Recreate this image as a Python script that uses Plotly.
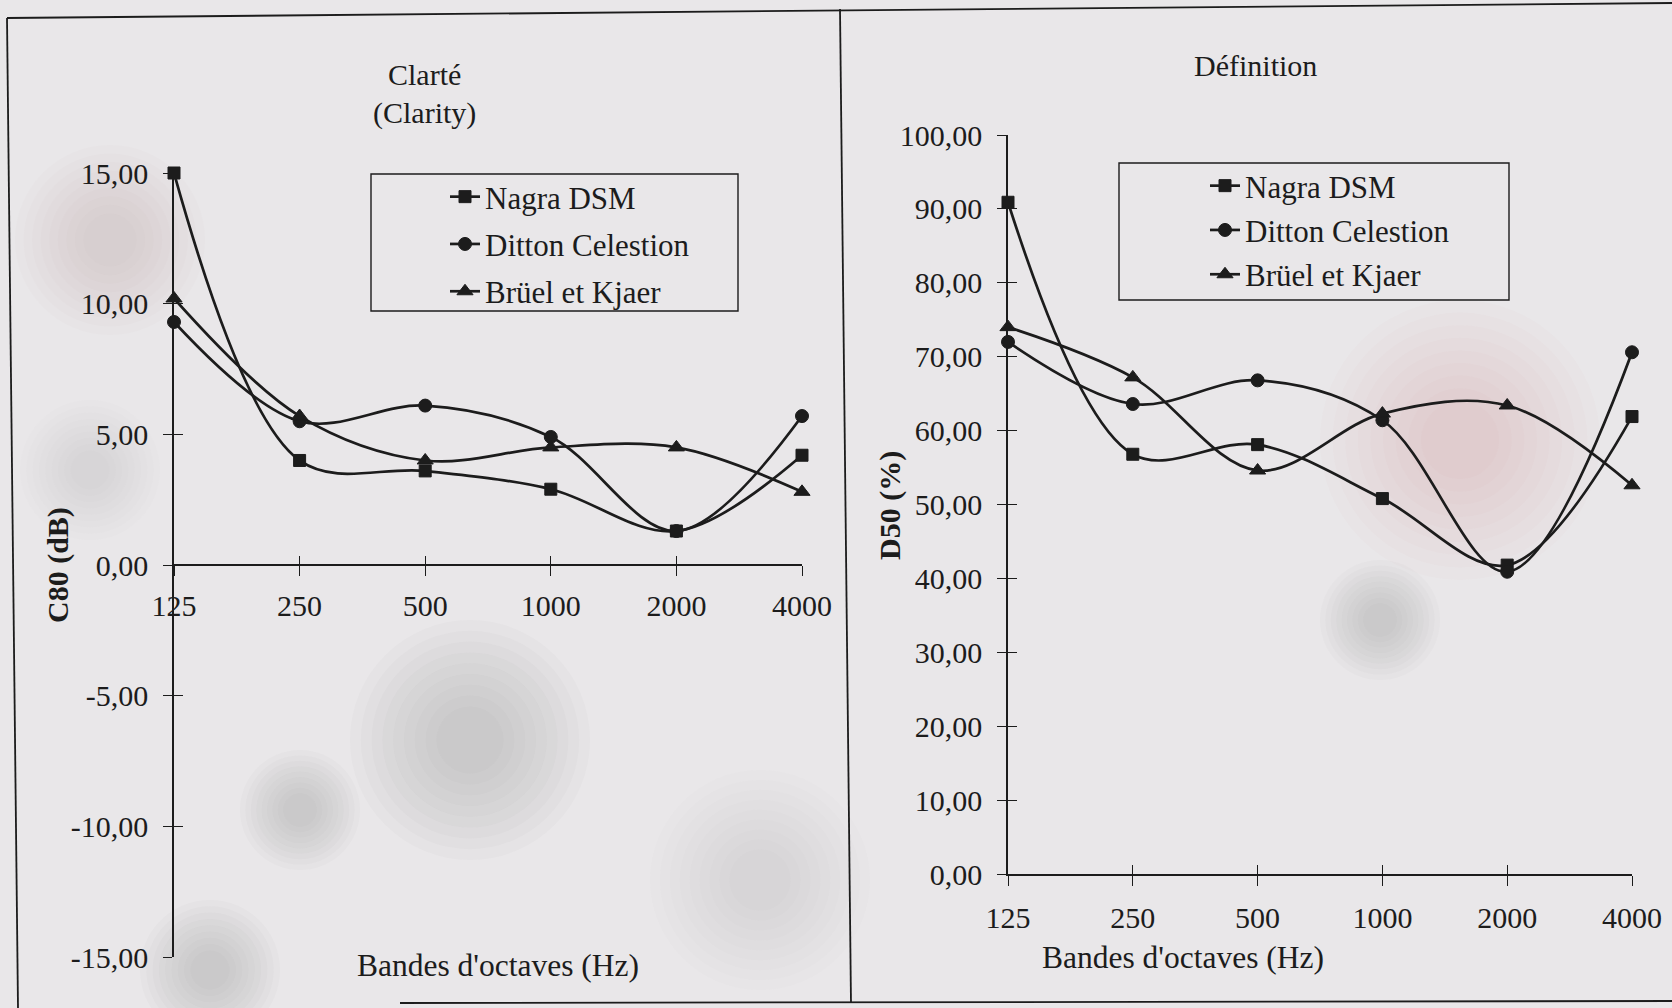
import plotly.graph_objects as go

# ---------------- data ----------------
bands = ["125", "250", "500", "1000", "2000", "4000"]

c80_nagra = [15.0, 4.0, 3.6, 2.9, 1.3, 4.2]
c80_ditton = [9.3, 5.5, 6.1, 4.9, 1.3, 5.7]
c80_bruel = [10.2, 5.7, 4.0, 4.5, 4.5, 2.8]

d50_nagra = [90.9, 56.8, 58.1, 50.8, 41.8, 61.9]
d50_ditton = [72.0, 63.6, 66.8, 61.4, 40.9, 70.6]
d50_bruel = [74.0, 67.2, 54.6, 62.3, 63.4, 52.6]

series_names = ["Nagra DSM", "Ditton Celestion", "Brüel et Kjaer"]

c80_ticks = [15, 10, 5, 0, -5, -10, -15]
c80_ticktext = ["15,00", "10,00", "5,00", "0,00", "-5,00", "-10,00", "-15,00"]
d50_ticks = [100, 90, 80, 70, 60, 50, 40, 30, 20, 10, 0]
d50_ticktext = ["100,00", "90,00", "80,00", "70,00", "60,00", "50,00",
                "40,00", "30,00", "20,00", "10,00", "0,00"]

# ---------------- style ----------------
W, H = 1672, 1008
FONT = "Liberation Serif, Times New Roman, serif"
INK = "#1c1c1c"
BG = "#e9e7e9"
symbols = ["square", "circle", "triangle-up"]
msizes = [12, 13, 14]


def px(x):
    return x / W


def py(y):
    return 1 - y / H


fig = go.Figure()

left_sets = [c80_nagra, c80_ditton, c80_bruel]
right_sets = [d50_nagra, d50_ditton, d50_bruel]

for i, (name, vals) in enumerate(zip(series_names, left_sets)):
    fig.add_trace(go.Scatter(
        x=bands, y=vals, name=name, mode="lines+markers",
        line=dict(color=INK, width=2.7, shape="spline", smoothing=1),
        marker=dict(symbol=symbols[i], size=msizes[i], color=INK,
                    line=dict(color=INK, width=1)),
        xaxis="x", yaxis="y", legend="legend", cliponaxis=False,
        legendgroup="L%d" % i,
    ))

for i, (name, vals) in enumerate(zip(series_names, right_sets)):
    fig.add_trace(go.Scatter(
        x=bands, y=vals, name=name, mode="lines+markers",
        line=dict(color=INK, width=2.7, shape="spline", smoothing=1),
        marker=dict(symbol=symbols[i], size=msizes[i], color=INK,
                    line=dict(color=INK, width=1)),
        xaxis="x2", yaxis="y2", legend="legend2", cliponaxis=False,
        legendgroup="R%d" % i,
    ))

# empty helper traces so the overlay axes (inner half of the crossing ticks) exist
fig.add_trace(go.Scatter(x=[], y=[], xaxis="x3", yaxis="y3", showlegend=False,
                         hoverinfo="skip"))
fig.add_trace(go.Scatter(x=[], y=[], xaxis="x4", yaxis="y4", showlegend=False,
                         hoverinfo="skip"))

tickfont = dict(family=FONT, size=30, color=INK)

# left panel geometry
lx0, lx1 = 174, 802
ly_top, ly_bot = 173, 957
# right panel geometry
rx0, rx1 = 1008, 1632
ry_top, ry_bot = 135, 874

ldom = [py(ly_bot), py(ly_top)]
rdom = [py(ry_bot), py(ry_top)]
lxdom = [px(lx0), px(lx1)]
rxdom = [px(rx0), px(rx1)]
xpos_left = (ldom[0] + ldom[1]) / 2

axis_common = dict(showline=True, linecolor=INK, linewidth=1.6,
                   tickwidth=1.4, tickcolor=INK, showgrid=False, zeroline=False)
inner_common = dict(showline=False, ticks="inside", ticklen=9, tickwidth=1.4,
                    tickcolor=INK, showticklabels=False, showgrid=False,
                    zeroline=False)

fig.update_layout(
    width=W, height=H,
    margin=dict(l=0, r=0, t=0, b=0, pad=0, autoexpand=False),
    paper_bgcolor=BG, plot_bgcolor="rgba(0,0,0,0)",
    font=dict(family=FONT, color=INK, size=30),
    showlegend=True,
    xaxis=dict(
        type="category", domain=lxdom, range=[0, 5],
        anchor="free", position=xpos_left,
        ticks="outside", ticklen=10,
        tickfont=tickfont, ticklabelstandoff=4, **axis_common,
    ),
    yaxis=dict(
        domain=ldom, range=[-15, 15], anchor="x",
        tickvals=c80_ticks, ticktext=c80_ticktext,
        ticks="outside", ticklen=9,
        tickfont=tickfont, ticklabelstandoff=9, **axis_common,
    ),
    xaxis2=dict(
        type="category", domain=rxdom, range=[0, 5], anchor="y2",
        ticks="outside", ticklen=10,
        tickfont=tickfont, ticklabelstandoff=6, **axis_common,
    ),
    yaxis2=dict(
        domain=rdom, range=[0, 100], anchor="x2",
        tickvals=d50_ticks, ticktext=d50_ticktext,
        ticks="outside", ticklen=9,
        tickfont=tickfont, ticklabelstandoff=9, **axis_common,
    ),
    # inner halves of the crossing tick marks
    xaxis3=dict(domain=lxdom, range=[0, 5], anchor="free", position=xpos_left,
                tickvals=list(range(len(bands))), **inner_common),
    yaxis3=dict(domain=ldom, range=[-15, 15], anchor="x3",
                tickvals=c80_ticks, **inner_common),
    xaxis4=dict(domain=rxdom, range=[0, 5], anchor="y4",
                tickvals=list(range(len(bands))), **inner_common),
    yaxis4=dict(domain=rdom, range=[0, 100], anchor="x4",
                tickvals=d50_ticks, **inner_common),
    legend=dict(
        x=px(445), y=py(170), xanchor="left", yanchor="top",
        bgcolor="rgba(0,0,0,0)", borderwidth=0,
        font=dict(family=FONT, size=31, color=INK),
        tracegroupgap=4, itemwidth=30,
    ),
    legend2=dict(
        x=px(1205), y=py(159), xanchor="left", yanchor="top",
        bgcolor="rgba(0,0,0,0)", borderwidth=0,
        font=dict(family=FONT, size=31, color=INK),
        tracegroupgap=1, itemwidth=30,
    ),
)

# ---------------- paper artefacts (soft stains, layered for soft edges) ----------------
stains = [
    (470, 740, 120, (125, 125, 125), 0.028),
    (300, 810, 60, (125, 120, 120), 0.028),
    (110, 240, 95, (185, 130, 130), 0.022),
    (1460, 440, 140, (185, 120, 120), 0.02),
    (1380, 620, 60, (125, 125, 125), 0.028),
    (210, 970, 70, (120, 110, 110), 0.028),
    (760, 880, 110, (130, 130, 130), 0.02),
    (90, 470, 70, (130, 130, 130), 0.02),
]
for cx, cy, r, rgb, a in stains:
    for k in range(9):
        rr = r * (1 - 0.09 * k)
        fig.add_shape(type="circle", xref="paper", yref="paper",
                      x0=px(cx - rr), x1=px(cx + rr),
                      y0=py(cy + rr), y1=py(cy - rr),
                      fillcolor="rgba(%d,%d,%d,%.3f)" % (rgb + (a,)),
                      line=dict(width=0), layer="below")

# ---------------- frame lines ----------------
frame = [
    (7, 18, 1672, 3),     # top
    (7, 18, 18, 1008),    # left
    (840, 9, 851, 1003),  # middle divider
    (400, 1003, 1672, 1001),  # bottom
]
for x0, y0, x1, y1 in frame:
    fig.add_shape(type="line", xref="paper", yref="paper",
                  x0=px(x0), y0=py(y0), x1=px(x1), y1=py(y1),
                  line=dict(color=INK, width=1.8))

# legend boxes
for (x0, y0, x1, y1) in [(371, 174, 738, 311), (1119, 163, 1509, 300)]:
    fig.add_shape(type="rect", xref="paper", yref="paper",
                  x0=px(x0), y0=py(y1), x1=px(x1), y1=py(y0),
                  line=dict(color=INK, width=1.4), fillcolor="rgba(0,0,0,0)")

# ---------------- texts ----------------
def note(text, x, y, size=30, angle=0, bold=False):
    if bold:
        text = "<b>%s</b>" % text
    fig.add_annotation(text=text, x=px(x), y=py(y), xref="paper", yref="paper",
                       showarrow=False, xanchor="center", yanchor="middle",
                       textangle=angle,
                       font=dict(family=FONT, size=size, color=INK))

note("Clarté", 424, 75)
note("(Clarity)", 424, 113)
note("Définition", 1255, 66)
note("Bandes d'octaves (Hz)", 498, 965, size=31.5)
note("Bandes d'octaves (Hz)", 1183, 957, size=31.5)
note("C80 (dB)", 58, 565, angle=-90, bold=True)
note("D50 (%)", 890, 506, angle=-90, bold=True)

fig.write_html("out.html",
               config={"displayModeBar": False},
               post_script="document.body.style.margin='0';"
                           "document.body.style.overflow='hidden';")
